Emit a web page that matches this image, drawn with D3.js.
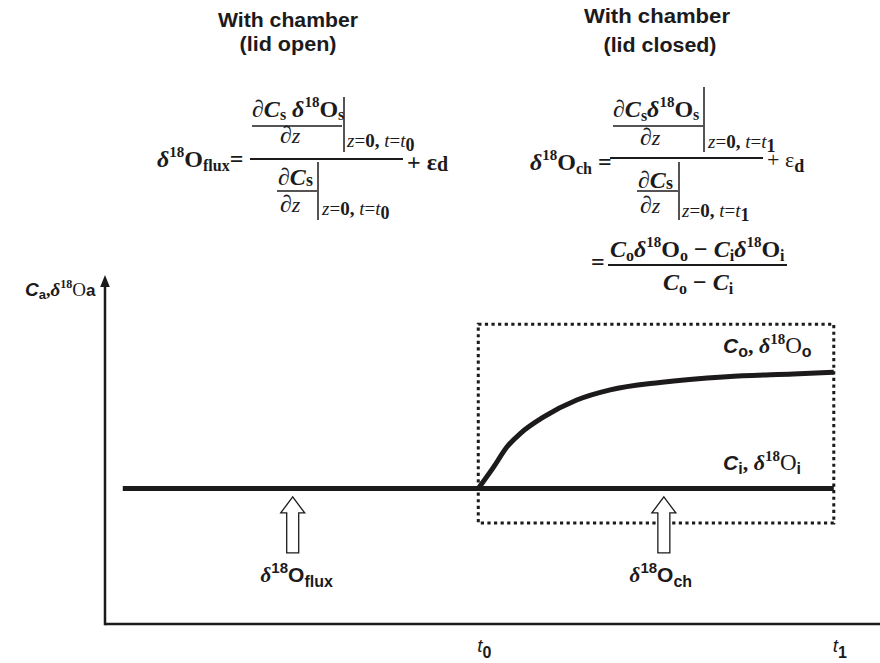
<!DOCTYPE html>
<html><head><meta charset="utf-8">
<script src="https://cdn.jsdelivr.net/npm/d3@7"></script>
<style>html,body{margin:0;padding:0;background:#fff;}svg{display:block;}</style>
</head><body>
<script>
// ---- data ----
const timeDomain = [-1.05, 1.13];          // horizontal extent of the time axis
const valueDomain = [0, 10.3];             // vertical extent of the value axis
const tickTimes = [0, 1];
const tickLabels = [["t", "0"], ["t", "1"]];
const innerTime = [-1, 1];
const innerValue = [4.0, 4.0];
const outerTime = [0, 0.043, 0.081, 0.118, 0.184, 0.277, 0.371, 0.511, 0.699, 0.886, 1.0];
const outerValue = [4.0, 4.63, 5.23, 5.62, 6.11, 6.61, 6.91, 7.13, 7.30, 7.38, 7.43];
const chamberTime = [0, 1];
const chamberValue = [2.98, 8.85];
const arrowTime = [-0.522, 0.522];
const arrowTip = 3.75, arrowBase = 2.1;

const W = 880, H = 663;
const ink = "#1c1a1b";
const serif = "'Liberation Serif','Times New Roman',serif";
const sans = "'Liberation Sans',Arial,sans-serif";

const svg = d3.select("body").append("svg").attr("width", W).attr("height", H);
const x = d3.scaleLinear().domain(timeDomain).range([105, 880]);
const y = d3.scaleLinear().domain(valueDomain).range([624, 275]);

// rich text helper
function S(t, z, o = {}) { return Object.assign({ t, z }, o); }
function rich(px, py, segs, anchor = "start", g = svg) {
  const t = g.append("text").attr("x", px).attr("y", py).attr("text-anchor", anchor).attr("fill", ink);
  let cur = 0;
  segs.forEach(s => {
    const sp = t.append("tspan").text(s.t)
      .attr("font-family", s.f === "s" ? sans : serif)
      .attr("font-size", s.z)
      .attr("font-weight", s.b ? "bold" : "normal")
      .attr("font-style", s.i ? "italic" : "normal");
    const dy = s.dy || 0;
    if (dy - cur !== 0) sp.attr("dy", dy - cur);
    cur = dy;
    if (s.dx) sp.attr("dx", s.dx);
  });
  return t;
}
function hline(x1, x2, yy, w = 1.5) {
  svg.append("line").attr("x1", x1).attr("x2", x2).attr("y1", yy).attr("y2", yy).attr("stroke", ink).attr("stroke-width", w);
}
function vline(xx, y1, y2, w = 1.5) {
  svg.append("line").attr("x1", xx).attr("x2", xx).attr("y1", y1).attr("y2", y2).attr("stroke", ink).attr("stroke-width", w);
}

// ---- axes ----
svg.append("line").attr("x1", x(timeDomain[0])).attr("x2", x(timeDomain[1]))
  .attr("y1", y(0)).attr("y2", y(0)).attr("stroke", ink).attr("stroke-width", 2.5);
svg.append("line").attr("x1", x(timeDomain[0])).attr("x2", x(timeDomain[0]))
  .attr("y1", y(0) + 1.2).attr("y2", y(valueDomain[1]) + 10).attr("stroke", ink).attr("stroke-width", 2.5);
const ax = x(timeDomain[0]), ay = y(valueDomain[1]);
svg.append("path").attr("d", `M${ax},${ay} L${ax - 4.8},${ay + 12} L${ax + 4.8},${ay + 12} Z`).attr("fill", ink);

tickTimes.forEach((tv, i) => {
  rich(x(tv) - 1, 652, [S(tickLabels[i][0], 19, { f: "s", i: true }), S(tickLabels[i][1], 16, { f: "s", b: true, dy: 6 })]);
});

// y label
rich(25, 296, [
  S("C", 19, { f: "s", b: true, i: true }), S("a", 13, { f: "s", b: true, dy: 3 }),
  S(",", 18, { b: true, dy: 0 }), S("δ", 19, { b: true, i: true }), S("18", 12, { b: true, dy: -8 }),
  S("O", 19, { dy: 0 }), S("a", 17, { f: "s", b: true, dy: 0 })
]);

// ---- chamber box ----
svg.append("rect").attr("x", x(chamberTime[0])).attr("y", y(chamberValue[1]))
  .attr("width", x(chamberTime[1]) - x(chamberTime[0])).attr("height", y(chamberValue[0]) - y(chamberValue[1]))
  .attr("fill", "none").attr("stroke", ink).attr("stroke-width", 3).attr("stroke-dasharray", "3.2,3.4");

// ---- series ----
const line = d3.line().x(d => x(d[0])).y(d => y(d[1]));
svg.append("path").datum(innerTime.map((t, i) => [t, innerValue[i]]))
  .attr("d", line).attr("fill", "none").attr("stroke", ink).attr("stroke-width", 5);
svg.append("path").datum(outerTime.map((t, i) => [t, outerValue[i]]))
  .attr("d", line.curve(d3.curveMonotoneX)).attr("fill", "none").attr("stroke", ink).attr("stroke-width", 5);

// series labels
rich(723, 353, [
  S("C", 21, { f: "s", b: true, i: true }), S("o", 16, { f: "s", b: true, dy: 4 }),
  S(", ", 22, { b: true, dy: 0 }), S("δ", 22, { b: true, i: true }), S("18", 15, { b: true, dy: -9 }),
  S("O", 23, { dy: 0 }), S("o", 16, { f: "s", b: true, dy: 4 })
]);
rich(723, 470, [
  S("C", 21, { f: "s", b: true, i: true }), S("i", 16, { f: "s", b: true, dy: 4 }),
  S(", ", 22, { b: true, dy: 0 }), S("δ", 22, { b: true, i: true }), S("18", 15, { b: true, dy: -9 }),
  S("O", 23, { dy: 0 }), S("i", 16, { f: "s", b: true, dy: 4 })
]);

// ---- hollow arrows ----
arrowTime.forEach(tv => {
  const cx = x(tv), yt = y(arrowTip), yb = y(arrowBase);
  const hw = 12, sw = 6, hl = 16;
  svg.append("path").attr("d",
    `M${cx},${yt} L${cx + hw},${yt + hl} L${cx + sw},${yt + hl} L${cx + sw},${yb} L${cx - sw},${yb} L${cx - sw},${yt + hl} L${cx - hw},${yt + hl} Z`)
    .attr("fill", "#fff").attr("stroke", ink).attr("stroke-width", 1.3).attr("stroke-linejoin", "miter");
});
rich(x(arrowTime[0]) + 4, 582, [
  S("δ", 21, { b: true, i: true }), S("18", 15, { f: "s", b: true, dy: -9 }),
  S("O", 21, { f: "s", b: true, dy: 0 }), S("flux", 16, { f: "s", b: true, dy: 5 })
], "middle");
rich(x(arrowTime[1]) - 3, 582, [
  S("δ", 21, { b: true, i: true }), S("18", 15, { f: "s", b: true, dy: -9 }),
  S("O", 21, { f: "s", b: true, dy: 0 }), S("ch", 16, { f: "s", b: true, dy: 5 })
], "middle");

// ---- headers ----
function header(cx, yy, txt, len) {
  svg.append("text").attr("x", cx).attr("y", yy).attr("text-anchor", "middle")
    .attr("font-family", sans).attr("font-weight", "bold").attr("font-size", 20).attr("fill", ink)
    .attr("textLength", len).attr("lengthAdjust", "spacingAndGlyphs").text(txt);
}
header(288, 27, "With chamber", 140);
header(288, 51, "(lid open)", 97);
header(657, 23, "With chamber", 146);
header(660, 52, "(lid closed)", 113);

// ---- equation 1 ----
const Z = 24, z2 = 16, zsup = 15, zs = 19;
function subLabel(px, py, n) {
  return rich(px, py, [
    S("z", zs, { i: true }), S("=", zs), S("0, ", zs, { b: true }),
    S("t", zs, { i: true }), S("=", zs), S("t", zs, { i: true }), S(n, 18, { b: true, dy: 4 })
  ]);
}
rich(157, 167, [
  S("δ", Z, { b: true, i: true }), S("18", zsup, { b: true, dy: -10 }), S("O", Z, { b: true, dy: 0 }),
  S("flux", z2, { b: true, dy: 4 }), S("=", Z, { b: true, dy: 0 })
]);
rich(252, 117, [
  S("∂", Z, { b: true }), S("C", Z, { b: true, i: true }), S("s", z2, { b: true, dy: 3 }),
  S(" δ", Z, { b: true, i: true, dy: 0 }), S("18", zsup, { b: true, dy: -10 }), S("O", Z, { b: true, dy: 0 }),
  S("s", z2, { b: true, dy: 3 })
]);
hline(252, 342, 126);
rich(280, 143, [S("∂", Z, { b: true }), S("z", 22, { i: true })]);
vline(344, 97, 152);
subLabel(347, 147, "0");
hline(250, 403, 159, 2);
rich(407, 170, [S("+ ", Z, { b: true }), S("ε", Z, { b: true }), S("d", 20, { b: true, dy: 1 })]);
rich(278, 185, [S("∂", Z, { b: true }), S("C", Z, { b: true, i: true }), S("s", 18, { b: true, dy: 1 })]);
hline(277, 317, 191);
rich(280, 212, [S("∂", Z, { b: true }), S("z", 22, { i: true })]);
vline(318, 162, 220);
subLabel(322, 215, "0");

// ---- equation 2 ----
rich(530, 170, [
  S("δ", Z, { b: true, i: true }), S("18", zsup, { b: true, dy: -10 }), S("O", Z, { b: true, dy: 0 }),
  S("ch", z2, { b: true, dy: 4 }), S(" =", Z, { b: true, dy: 0 })
]);
rich(613, 117, [
  S("∂", Z, { b: true }), S("C", Z, { b: true, i: true }), S("s", z2, { b: true, dy: 4 }),
  S("δ", Z, { b: true, i: true, dy: 0 }), S("18", zsup, { b: true, dy: -10 }), S("O", Z, { b: true, dy: 0 }),
  S("s", z2, { b: true, dy: 3 })
]);
hline(613, 703, 126);
rich(640, 145, [S("∂", Z, { b: true }), S("z", 22, { i: true })]);
vline(704, 87, 152);
subLabel(708, 148, "1");
hline(610, 763, 158, 2);
rich(767, 167, [S("+ ", 22), S("ε", 22), S("d", 18, { b: true, dy: 5 })]);
rich(638, 188, [S("∂", Z, { b: true }), S("C", Z, { b: true, i: true }), S("s", 18, { b: true, dy: 1 })]);
hline(637, 678, 191);
rich(640, 213, [S("∂", Z, { b: true }), S("z", 22, { i: true })]);
vline(679, 162, 220);
subLabel(682, 217, "1");

rich(591, 270, [S("=", Z, { b: true })]);
rich(610, 257, [
  S("C", Z, { b: true, i: true }), S("o", z2, { b: true, dy: 4 }),
  S("δ", Z, { b: true, i: true, dy: 0 }), S("18", zsup, { b: true, dy: -10 }), S("O", Z, { b: true, dy: 0 }),
  S("o", z2, { b: true, dy: 4 }), S(" − ", Z, { b: true, dy: 0 }),
  S("C", Z, { b: true, i: true }), S("i", z2, { b: true, dy: 4 }),
  S("δ", Z, { b: true, i: true, dy: 0 }), S("18", zsup, { b: true, dy: -10 }), S("O", Z, { b: true, dy: 0 }),
  S("i", z2, { b: true, dy: 4 })
]);
hline(608, 787, 265, 2);
rich(663, 290, [
  S("C", Z, { b: true, i: true }), S("o", z2, { b: true, dy: 4 }), S(" − ", Z, { b: true, dy: 0 }),
  S("C", Z, { b: true, i: true }), S("i", z2, { b: true, dy: 4 })
]);
</script>
</body></html>
